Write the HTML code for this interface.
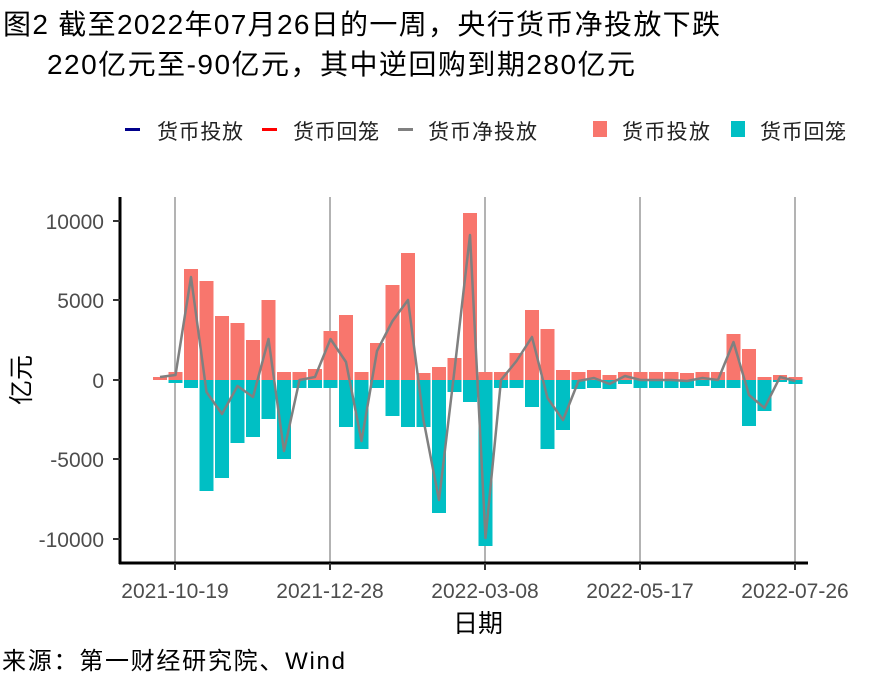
<!DOCTYPE html>
<html><head><meta charset="utf-8"><style>
html,body{margin:0;padding:0;background:#fff;}
svg text{font-family:"Liberation Sans","Noto Sans CJK SC",sans-serif;}
</style></head><body>
<svg id="svg" width="885" height="688" xmlns="http://www.w3.org/2000/svg">
<rect width="885" height="688" fill="#fff"/>
<text x="3" y="34" font-size="28" fill="#000" textLength="717">图2 截至2022年07月26日的一周，央行货币净投放下跌</text>
<text x="47" y="74" font-size="28" fill="#000" textLength="588">220亿元至-90亿元，其中逆回购到期280亿元</text>
<g font-size="21" fill="#222">
<rect x="125" y="128" width="15" height="3" fill="#00008b"/><text x="157" y="139" textLength="86">货币投放</text>
<rect x="262" y="128" width="15" height="3" fill="#ff0000"/><text x="293" y="139" textLength="86">货币回笼</text>
<rect x="398" y="128" width="15" height="3" fill="#808080"/><text x="428" y="139" textLength="109">货币净投放</text>
<rect x="593" y="121" width="14" height="16" fill="#f8766d"/><text x="622" y="139" textLength="88">货币投放</text>
<rect x="731" y="121" width="14" height="16" fill="#00bfc4"/><text x="760" y="139" textLength="86">货币回笼</text>
</g>
<g stroke="#b3b3b3" stroke-width="2">
<line x1="175" y1="197" x2="175" y2="563"/><line x1="330" y1="197" x2="330" y2="563"/>
<line x1="485" y1="197" x2="485" y2="563"/><line x1="640" y1="197" x2="640" y2="563"/>
<line x1="795" y1="197" x2="795" y2="563"/>
</g>
<g id="bars"></g>
<polyline id="net" fill="none" stroke="#808080" stroke-width="2.5" stroke-linejoin="round"/>
<g stroke="#000" stroke-width="3"><line x1="120" y1="197" x2="120" y2="564"/><line x1="119" y1="563" x2="808" y2="563"/></g>
<g stroke="#333" stroke-width="2">
<line x1="113" y1="221" x2="120" y2="221"/><line x1="113" y1="300" x2="120" y2="300"/><line x1="113" y1="380" x2="120" y2="380"/><line x1="113" y1="459" x2="120" y2="459"/><line x1="113" y1="539" x2="120" y2="539"/>
<line x1="175" y1="563" x2="175" y2="570"/><line x1="330" y1="563" x2="330" y2="570"/><line x1="485" y1="563" x2="485" y2="570"/><line x1="640" y1="563" x2="640" y2="570"/><line x1="795" y1="563" x2="795" y2="570"/>
</g>
<g font-size="21" fill="#4d4d4d" text-anchor="end">
<text x="104" y="229">10000</text><text x="104" y="308">5000</text><text x="104" y="388">0</text><text x="104" y="467">-5000</text><text x="104" y="547">-10000</text>
</g>
<g font-size="21" fill="#4d4d4d" text-anchor="middle">
<text x="175" y="598">2021-10-19</text><text x="330" y="598">2021-12-28</text><text x="485" y="598">2022-03-08</text><text x="640" y="598">2022-05-17</text><text x="795" y="598">2022-07-26</text>
</g>
<text x="478" y="632" font-size="25" text-anchor="middle" fill="#000">日期</text>
<text transform="translate(30,380) rotate(-90)" font-size="25" text-anchor="middle" fill="#000">亿元</text>
<text x="2" y="669" font-size="24" fill="#000" textLength="343">来源：第一财经研究院、Wind</text>
<script>
var d=[[377,380],[372,383],[269,388],[281,491],[316,478],[323,443],[340,437],[300,419],[372,459],[372,388],[369,388],[331,388],[315,427],[372,449],[343,388],[285,416],[253,427],[373,427],[367,513],[358,392],[213,402],[372,546],[372,388],[353,388],[310,407],[329,449],[370,430],[372,389],[370,388],[375,389],[372,384],[372,388],[372,388],[372,388],[373,388],[372,386],[372,388],[334,388],[349,426],[377,411],[375,382],[377,384]];
var NS='http://www.w3.org/2000/svg',g=document.getElementById('bars'),p=[];
function r(x,y,h,c){var e=document.createElementNS(NS,'rect');e.setAttribute('x',x);e.setAttribute('y',y);e.setAttribute('width',14);e.setAttribute('height',h);e.setAttribute('fill',c);g.appendChild(e);}
d.forEach(function(v,i){var x=153+i*15.5;
r(x,v[0],380-v[0],'#f8766d');
if(v[1]>380)r(x,380,v[1]-380,'#00bfc4');
p.push((x+7)+','+(v[0]+v[1]-380));});
document.getElementById('net').setAttribute('points',p.join(' '));
</script>
</svg>
</body></html>
